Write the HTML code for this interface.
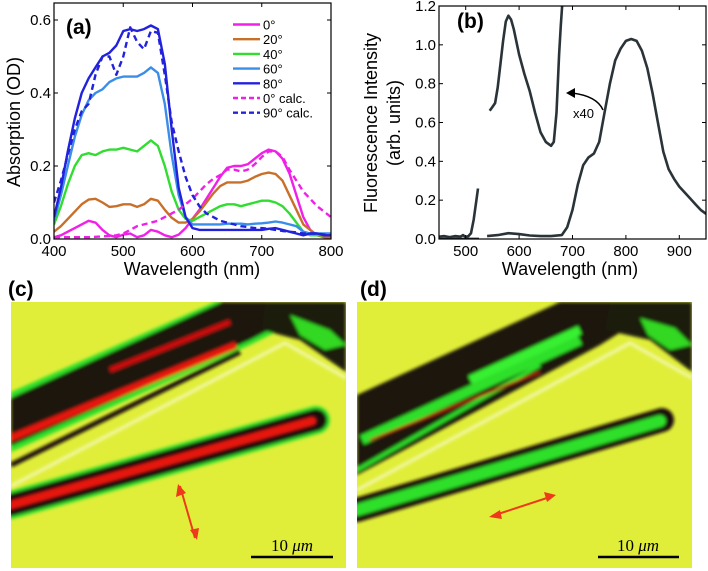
<!DOCTYPE html>
<html><head><meta charset="utf-8"><style>
body{margin:0;background:#fff;}
svg{display:block;font-family:"Liberation Sans",sans-serif;}
</style></head><body>
<svg id="fig" width="708" height="571" viewBox="0 0 708 571" xmlns="http://www.w3.org/2000/svg">
<defs>
<filter id="blur2" x="-10%" y="-10%" width="120%" height="120%"><feGaussianBlur stdDeviation="1.6"/></filter>
<clipPath id="clipc"><rect x="11" y="302" width="335" height="266"/></clipPath>
<clipPath id="clipd"><rect x="357" y="302" width="335" height="266"/></clipPath>
<clipPath id="clipb"><rect x="439" y="6" width="267" height="233"/></clipPath>
<clipPath id="clipa"><rect x="54" y="3" width="277" height="236"/></clipPath>
</defs>
<g id="panelA"></g>
<g id="panelB"></g>

<g>
<text x="8" y="296" font-size="21" font-weight="bold">(c)</text>
<g clip-path="url(#clipc)">
<rect x="11" y="302" width="335" height="266" fill="#e0ee3a"/>
<g filter="url(#blur2)">
<polyline points="11,486 285,343 346,378" fill="none" stroke="#f4f8b0" stroke-width="3"/>
<polygon points="11,392 11,452 250,345 300,320 300,302 215,302" fill="#2fe02a"/>
<polygon points="11,398 11,446 250,340 292,318 292,302 222,302" fill="#1c1208"/>
<line x1="11" y1="438" x2="236" y2="345" stroke="#e8140e" stroke-width="7"/>
<line x1="110" y1="370" x2="230" y2="322" stroke="#d01010" stroke-width="5"/>
<line x1="11" y1="465" x2="240" y2="352" stroke="#1a1008" stroke-width="5"/>
<polygon points="265,302 346,302 346,372 300,340 262,330" fill="#1c1a08"/>
<polygon points="290,315 330,330 346,345 325,350 300,335" fill="#30d820"/>
<line x1="11" y1="505" x2="316" y2="420" stroke="#2fe02a" stroke-width="28" stroke-linecap="round"/>
<line x1="11" y1="505" x2="316" y2="420" stroke="#1a1008" stroke-width="22" stroke-linecap="round"/>
<line x1="11" y1="505" x2="312" y2="421" stroke="#e8140e" stroke-width="8" stroke-linecap="round"/>
</g>
<line x1="180" y1="486" x2="195" y2="538" stroke="#ee3a1a" stroke-width="2"/>
<polygon points="178,484 176,497 186,493" fill="#ee3a1a"/>
<polygon points="197,540 190,530 199,528" fill="#ee3a1a"/>
<line x1="251" y1="557" x2="333" y2="557" stroke="#000" stroke-width="2.5"/>
<text x="292" y="551" font-size="17" text-anchor="middle" font-family="Liberation Serif,serif">10 <tspan font-style="italic">μm</tspan></text>
</g>
</g>

<g>
<text x="360" y="296" font-size="21" font-weight="bold">(d)</text>
<g clip-path="url(#clipd)">
<rect x="357" y="302" width="335" height="266" fill="#e0ee3a"/>
<g filter="url(#blur2)">
<polyline points="357,490 630,343 692,378" fill="none" stroke="#f4f8b0" stroke-width="3"/>
<polygon points="357,395 357,475 600,345 640,320 640,302 560,302" fill="#1c1208"/>
<line x1="362" y1="440" x2="580" y2="340" stroke="#2fe02a" stroke-width="10"/>
<line x1="470" y1="380" x2="580" y2="330" stroke="#38f030" stroke-width="9"/>
<line x1="357" y1="470" x2="540" y2="365" stroke="#2fe02a" stroke-width="4"/>
<line x1="370" y1="440" x2="540" y2="372" stroke="#c02a10" stroke-width="2"/>
<polygon points="610,302 692,302 692,372 650,340 605,330" fill="#1c1a08"/>
<polygon points="640,318 675,328 692,345 670,350 648,335" fill="#30d820"/>
<line x1="357" y1="510" x2="662" y2="420" stroke="#1a1008" stroke-width="24" stroke-linecap="round"/>
<line x1="357" y1="510" x2="660" y2="421" stroke="#2fe02a" stroke-width="12" stroke-linecap="round"/>
</g>
<line x1="492" y1="516" x2="553" y2="496" stroke="#ee3a1a" stroke-width="2"/>
<polygon points="489,517 500,510 502,519" fill="#ee3a1a"/>
<polygon points="556,495 544,492 547,502" fill="#ee3a1a"/>
<line x1="598" y1="557" x2="679" y2="557" stroke="#000" stroke-width="2.5"/>
<text x="638" y="551" font-size="17" text-anchor="middle" font-family="Liberation Serif,serif">10 <tspan font-style="italic">μm</tspan></text>
</g>
</g>
</svg>
<script>
const wlA = [400,410,420,430,440,450,460,470,480,490,500,510,520,530,540,550,560,570,580,590,600,610,620,630,640,650,660,670,680,690,700,710,720,730,740,750,760,770,780,790,800];
const abs0 = [.005,.01,.02,.03,.04,.05,.045,.025,.01,.005,.012,.015,.005,.01,.025,.02,.01,.005,.012,.03,.055,.08,.11,.14,.17,.195,.2,.2,.205,.22,.235,.245,.24,.22,.18,.12,.06,.025,.01,.008,.005];
const abs20 = [.02,.035,.055,.075,.095,.108,.11,.1,.088,.09,.095,.095,.088,.095,.11,.105,.08,.058,.045,.045,.055,.075,.1,.125,.145,.155,.155,.155,.16,.17,.178,.182,.178,.16,.12,.08,.04,.025,.01,.005,.003];
const abs40 = [.04,.09,.15,.2,.23,.235,.23,.24,.245,.245,.25,.245,.24,.255,.27,.255,.2,.13,.08,.055,.05,.06,.07,.08,.09,.095,.095,.09,.095,.1,.105,.105,.1,.09,.07,.045,.02,.01,.01,.01,.01];
const abs60 = [.05,.12,.2,.28,.34,.38,.4,.41,.43,.44,.445,.445,.445,.455,.47,.455,.37,.23,.12,.06,.04,.04,.04,.04,.04,.042,.042,.042,.04,.042,.043,.045,.048,.045,.04,.035,.02,.015,.015,.015,.015];
const abs80 = [.06,.14,.24,.33,.4,.44,.47,.5,.51,.53,.57,.575,.57,.575,.585,.575,.48,.3,.14,.06,.03,.025,.025,.025,.025,.025,.025,.025,.025,.025,.025,.028,.03,.025,.02,.015,.01,.015,.015,.01,.01];
const calc0 = [.005,.005,.005,.005,.005,.005,.006,.007,.008,.01,.015,.025,.035,.04,.045,.05,.06,.07,.08,.095,.11,.13,.15,.165,.175,.19,.19,.185,.19,.205,.225,.24,.24,.225,.19,.16,.13,.11,.09,.075,.06];
const calc90 = [.1,.16,.23,.3,.35,.37,.45,.5,.5,.45,.5,.58,.54,.52,.57,.565,.45,.32,.24,.17,.12,.09,.07,.06,.05,.045,.04,.035,.033,.03,.03,.028,.025,.022,.02,.018,.015,.015,.015,.012,.01];
const seriesA = [abs0,abs20,abs40,abs60,abs80,calc0,calc90];
const namesA = ["0°","20°","40°","60°","80°","0° calc.","90° calc."];
const colorsA = ["#f020e8","#c8702a","#30dd30","#3a8ee8","#2222dd","#f020e8","#2222dd"];
const dashedA = [false,false,false,false,false,true,true];
const xTicksA = [400,500,600,700,800];
const yTicksA = [0.0,0.2,0.4,0.6];

const wlMain = [540,560,580,600,620,640,660,680,690,700,710,720,730,740,750,760,770,780,790,800,810,820,830,840,850,860,870,880,890,900,910,920,930,940,950];
const flMain = [.015,.02,.03,.025,.018,.015,.015,.02,.06,.15,.28,.38,.42,.44,.5,.65,.8,.92,.98,1.02,1.03,1.02,.97,.88,.75,.6,.45,.36,.31,.27,.24,.21,.18,.15,.13];
const wlX40 = [545,550,555,560,565,570,575,580,585,590,600,610,620,630,640,650,655,660,665,670,675,678,681];
const flX40 = [.66,.68,.7,.78,.9,1.02,1.12,1.15,1.13,1.08,.95,.85,.76,.65,.55,.5,.49,.48,.5,.65,.95,1.1,1.22];
const wlLeft = [450,460,470,480,490,495,500,505,510,515,520,523];
const flLeft = [.012,.015,.01,.015,.012,.02,.01,.015,.03,.1,.2,.26];
const xTicksB = [500,600,700,800,900];
const yTicksB = [0.0,0.2,0.4,0.6,0.8,1.0,1.2];

const NS="http://www.w3.org/2000/svg";
function mk(tag, attrs, parent){const e=document.createElementNS(NS,tag);for(const k in attrs)e.setAttribute(k,attrs[k]);parent.appendChild(e);return e;}

const xA = w => 54 + (w-400)/400*277;
const yA = v => 239 - v/0.6*219;
const xB = w => 439 + (w-450)/500*267;
const yB = v => 239 - v/1.2*233;

function drawAxes(g, X, Y, box, xt, yt){
  const fr = mk('rect',{x:box[0],y:box[1],width:box[2]-box[0],height:box[3]-box[1],fill:'none',stroke:'#000','stroke-width':1.2},g);
  
  
  xt.forEach(t=>{
    const x=X(t);
    mk('line',{x1:x,y1:box[3],x2:x,y2:box[3]-4,stroke:'#000'},g);
    mk('line',{x1:x,y1:box[1],x2:x,y2:box[1]+4,stroke:'#000'},g);
    const tx=mk('text',{x:x,y:box[3]+17,'font-size':15,'text-anchor':'middle'},g);
    tx.textContent=t;
    
    
  });
  yt.forEach(t=>{
    const y=Y(t);
    mk('line',{x1:box[0],y1:y,x2:box[0]+4,y2:y,stroke:'#000'},g);
    mk('line',{x1:box[2],y1:y,x2:box[2]-4,y2:y,stroke:'#000'},g);
    const tx=mk('text',{x:box[0]-3,y:y+5,'font-size':15,'text-anchor':'end'},g);
    tx.textContent=t.toFixed(1);
    
    
  });
}
function pts(ws,vs,X,Y){return ws.map((w,i)=>X(w).toFixed(1)+','+Y(vs[i]).toFixed(1)).join(' ');}

const gA=document.getElementById('panelA');
const cA=mk('g',{'clip-path':'url(#clipa)'},gA);
seriesA.forEach((s,i)=>{
  const p=mk('polyline',{points:pts(wlA,s,xA,yA),fill:'none',stroke:colorsA[i],'stroke-width':2.4,'stroke-linejoin':'round'},cA);
  if(dashedA[i]) p.setAttribute('stroke-dasharray','6,4');
  
  
});
drawAxes(gA,xA,yA,[54,3,331,239],xTicksA,yTicksA);
namesA.forEach((n,i)=>{
  const y=24.5+i*14.7;
  const l=mk('line',{x1:233,y1:y,x2:260,y2:y,stroke:colorsA[i],'stroke-width':2.4},gA);
  if(dashedA[i]) l.setAttribute('stroke-dasharray','5,3');
  
  
  const t=mk('text',{x:263,y:y+5,'font-size':13},gA);
  t.textContent=n;
  
  
});
let t=mk('text',{x:66,y:34,'font-size':21,'font-weight':'bold'},gA);t.textContent='(a)';


t=mk('text',{x:192,y:275,'font-size':18,'text-anchor':'middle'},gA);t.textContent='Wavelength (nm)';


t=mk('text',{x:0,y:0,'font-size':18,'text-anchor':'middle',transform:'translate(20,122) rotate(-90)'},gA);t.textContent='Absorption (OD)';



const gB=document.getElementById('panelB');
const cB=mk('g',{'clip-path':'url(#clipb)'},gB);
[[wlMain,flMain,'series-fluorescence'],[wlX40,flX40,'series-fluorescence-x40'],[wlLeft,flLeft,'series-fluorescence-short']].forEach(d=>{
  const p=mk('polyline',{points:pts(d[0],d[1],xB,yB),fill:'none',stroke:'#2a3438','stroke-width':2.6,'stroke-linejoin':'round'},cB);
  
  
});
mk('line',{x1:xB(450),y1:yB(0.003),x2:xB(525),y2:yB(0.003),stroke:'#2a3438','stroke-width':1.5},cB);
drawAxes(gB,xB,yB,[439,6,706,239],xTicksB,yTicksB);
t=mk('text',{x:457,y:28,'font-size':21,'font-weight':'bold'},gB);t.textContent='(b)';


t=mk('text',{x:570,y:275,'font-size':18,'text-anchor':'middle'},gB);t.textContent='Wavelength (nm)';


t=mk('text',{x:0,y:0,'font-size':18,'text-anchor':'middle',transform:'translate(377,123) rotate(-90)'},gB);t.textContent='Fluorescence Intensity';


t=mk('text',{x:0,y:0,'font-size':18,'text-anchor':'middle',transform:'translate(400,123) rotate(-90)'},gB);t.textContent='(arb. units)';


const ar=mk('path',{d:'M603,110 Q597,96 572,93',fill:'none',stroke:'#000','stroke-width':1.5},gB);


mk('polygon',{points:'566,93 575,88 575,98',fill:'#000'},gB);
t=mk('text',{x:573,y:118,'font-size':13},gB);t.textContent='x40';


</script>
</body></html>
